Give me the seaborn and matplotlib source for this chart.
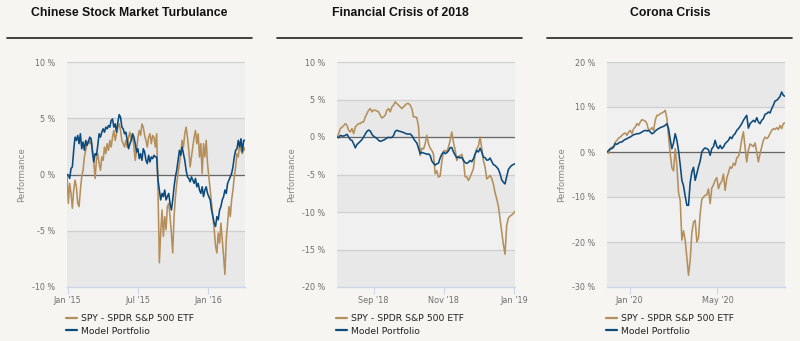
import numpy as np
import pandas as pd
import matplotlib
matplotlib.use("Agg")
import matplotlib.pyplot as plt
import matplotlib.dates as mdates
from matplotlib.lines import Line2D
from matplotlib.ticker import FuncFormatter, MultipleLocator
import seaborn as sns

# ---------------------------------------------------------------- data
titles = ["Chinese Stock Market Turbulance", "Financial Crisis of 2018", "Corona Crisis"]
series_names = ["SPY - SPDR S&P 500 ETF", "Model Portfolio"]

periods = [("2014-12-30", "2016-04-05"),
           ("2018-07-31", "2019-01-02"),
           ("2019-12-01", "2020-08-02")]

y_limits = [(-10, 10), (-20, 10), (-30, 20)]
y_steps = [5, 5, 10]
tick_months = [[1, 7], [1, 3, 5, 7, 9, 11], [1, 5, 9]]

# performance in percent, evenly spaced over each period
spy_chinese = [
    0.00, -2.56, -0.79, -1.68, -3.00, -1.38, -0.50, -1.09, -2.56, -2.85, -1.38, -0.21,
    0.38, 1.56, 2.15, 2.74, 3.03, 2.74, 3.03, 1.85, 1.12, -0.35, 1.30, 1.85, 0.97, 0.38,
    1.56, 1.26, 2.44, 1.85, 2.74, 2.15, 3.03, 2.44, 3.32, 3.91, 3.03, 3.62, 4.21, 4.50,
    3.91, 3.03, 2.74, 2.44, 3.03, 2.44, 3.32, 3.76, 3.03, 3.62, 2.44, 1.26, 2.15, 3.32,
    3.91, 3.47, 4.50, 4.21, 3.47, 3.03, 2.44, 3.32, 3.62, 2.74, 3.47, 3.32, 2.44, 3.62,
    -1.38, -7.85, -5.21, -3.15, -5.50, -3.74, -4.91, -2.85, -2.56, -3.74, -5.21, -6.97,
    -3.74, -1.97, -0.79, 0.09, 0.97, 1.85, 3.03, 2.44, 3.62, 4.21, 3.32, 2.15, 0.68, 1.56,
    2.44, 3.32, 3.91, 2.74, 3.62, 1.56, 2.74, 0.09, 2.74, 1.56, 3.03, 0.97, -0.21, -1.38,
    -2.56, -3.74, -4.91, -6.38, -6.97, -5.21, -6.09, -4.32, -5.79, -7.26, -8.88, -5.80,
    -4.32, -2.85, -3.74, -2.26, -1.38, -0.21, 0.68, 1.85, 1.56, 2.74, 2.15, 1.85, 2.44,
    2.15,
]
model_chinese = [
    0.00, -0.06, -0.35, 0.53, 0.68, 2.15, 3.32, 3.03, 3.47, 2.74, 3.62, 2.29, 2.88, 2.15,
    3.03, 2.59, 2.90, 3.32, 3.18, 2.15, 1.12, 1.85, 1.71, 2.59, 3.62, 3.32, 3.76, 4.06,
    3.76, 4.21, 4.06, 4.35, 4.21, 4.79, 4.94, 4.21, 4.50, 3.76, 4.65, 5.32, 5.09, 4.21,
    4.06, 3.62, 3.76, 3.03, 2.29, 2.74, 3.03, 3.62, 3.32, 2.74, 2.00, 2.29, 1.41, 1.85,
    1.26, 2.29, 2.00, 1.26, 0.97, 1.71, 1.12, 1.56, 1.41, 1.71, 1.56, 1.56, -0.50, -1.38,
    -2.26, -1.68, -1.97, -1.38, -2.26, -1.97, -1.68, -2.56, -3.15, -2.26, -1.09, -0.21,
    0.38, 1.26, 2.15, 1.71, 2.44, 1.85, 1.26, 0.38, -0.21, -0.35, -0.65, -0.21, -0.50,
    -0.79, -0.35, -1.09, -0.79, -1.38, -1.68, -1.09, -1.97, -1.38, -1.09, -1.68, -1.97,
    -2.26, -3.15, -3.74, -4.32, -4.62, -3.74, -4.03, -3.15, -2.85, -2.26, -1.97, -1.38,
    -1.68, -0.79, -0.50, -0.21, 0.09, 0.68, 1.56, 2.15, 2.29, 3.03, 2.44, 3.18, 2.00,
    3.03, 3.03,
]

spy_2018 = [
    0.00, 0.45, 1.12, 1.30, 1.50, 1.79, 1.56, 0.89, 0.67, 1.12, 0.45, 1.34, 1.56, 1.79,
    1.79, 2.01, 2.01, 2.68, 3.13, 3.57, 3.79, 3.35, 3.57, 3.57, 3.48, 3.35, 2.90, 2.54,
    2.68, 2.90, 3.57, 3.79, 3.35, 4.02, 4.24, 4.69, 4.46, 4.24, 4.02, 3.79, 4.02, 4.24,
    4.46, 4.46, 4.24, 3.79, 2.68, 2.68, 2.59, 1.34,
    -2.46, -1.50, -1.60, -0.89, 0.22, -0.90, -1.50, -1.79, -2.30, -4.91, -4.50, -5.36,
    -5.20, -3.30, -1.90, -1.79, -2.01, -1.34, -0.45, 0.67, -0.70, -1.70, -3.13, -2.60,
    -2.50, -2.30, -3.13, -5.30, -5.30, -5.80, -5.36, -4.80, -4.20, -2.30, -1.56, -1.20,
    0.00, -1.50, -3.13, -4.00, -5.58, -5.40, -5.13, -5.50, -6.30, -7.40, -8.26, -9.20,
    -10.90, -12.60, -14.29, -15.63, -11.80, -10.80, -10.55, -10.40, -10.20, -9.90,
]
model_2018 = [
    0.00, -0.09, 0.22, 0.13, 0.13, 0.22, 0.36, 0.00, -0.36, -0.45, -0.89, -1.45, -1.00,
    -0.80, -0.58, -0.35, 0.00, 0.40, 0.75, 0.92, 0.80, 0.35, 0.10, -0.05, -0.20, -0.45,
    -0.58, -0.50, -0.42, -0.30, -0.12, -0.05, -0.09, -0.05, 0.20, 0.75, 0.90, 0.80, 0.75,
    0.67, 0.60, 0.50, 0.40, 0.40, 0.40, 0.20, -0.20, -0.55, -0.80, -1.50, -2.23, -2.05,
    -2.14, -2.20, -2.30, -2.25, -2.46, -3.20, -3.50, -3.75, -3.57, -3.50, -2.80, -2.30,
    -2.01, -2.23, -2.10, -1.85, -1.43, -1.40, -2.00, -2.40, -2.77, -2.62, -2.80, -2.70,
    -3.13, -3.40, -3.52, -3.38, -3.13, -3.30, -2.90, -2.30, -1.79, -2.00, -1.50, -2.00,
    -2.68, -2.75, -3.08, -3.06, -2.81, -3.25, -3.68, -3.79, -4.02, -4.30, -4.90, -5.70,
    -6.03, -6.25, -5.30, -4.35, -4.02, -3.79, -3.66, -3.57,
]

spy_corona = [
    0.00, -0.30, 0.74, 1.11, 1.26, 2.22, 2.59, 3.11, 3.33, 3.70, 4.07, 4.22, 3.70, 4.44,
    4.81, 4.07, 5.19, 5.56, 6.30, 5.93, 6.67, 7.19, 7.04, 6.89, 6.30, 4.81, 4.96, 5.41,
    4.81, 7.04, 8.15, 8.15, 8.52, 8.67, 8.89, 9.26, 7.50, 3.50, -0.37, -3.50, -4.20, 0.74,
    -3.00, -9.00, -10.74, -19.60, -17.50, -19.63, -23.50, -27.40, -24.07, -18.00, -15.56,
    -15.19, -20.00, -19.00, -13.70, -10.50, -10.00, -9.63, -9.50, -8.20, -11.48, -8.00,
    -7.30, -6.30, -5.70, -8.15, -7.04, -6.50, -4.90, -8.52, -5.80, -4.60, -3.33, -3.60,
    -2.50, -2.96, -1.30, -1.00, 0.37, 2.80, 4.50, 1.00, -2.20, 0.40, 1.80, 1.50, 1.20,
    2.00, 0.00, -2.20, -0.40, 1.10, 2.60, 3.30, 3.00, 3.30, 4.10, 4.80, 5.20, 5.00, 5.40,
    5.00, 5.90, 5.20, 6.30, 6.50,
]
model_corona = [
    0.00, 0.37, 0.74, 0.74, 1.11, 1.85, 1.70, 2.00, 2.22, 2.22, 2.59, 2.81, 2.96, 3.19,
    3.33, 3.60, 3.85, 3.93, 4.07, 4.07, 4.22, 4.44, 4.67, 4.81, 4.67, 4.81, 4.44, 4.07,
    4.22, 4.67, 4.96, 5.19, 5.41, 5.56, 5.70, 5.93, 6.30, 5.19, 2.80, 0.74, 2.00, 4.07,
    2.59, 0.30, -2.80, -6.30, -7.50, -9.80, -11.85, -11.85, -6.80, -4.44, -3.40, -6.30,
    -4.81, -3.30, -2.00, 0.00, 0.60, 0.90, 0.74, 0.50, -0.74, 0.74, 1.20, 2.59, 1.26,
    0.74, 1.48, 0.74, 1.11, 1.85, 2.22, 2.59, 3.33, 2.96, 3.70, 4.07, 4.81, 5.19, 5.70,
    6.30, 7.04, 7.63, 8.15, 5.30, 6.30, 6.67, 7.04, 6.67, 7.63, 6.67, 6.30, 7.04, 7.41,
    8.37, 8.52, 8.89, 8.67, 9.63, 10.37, 11.33, 11.48, 11.85, 12.37, 13.33, 12.59, 12.37,
]

spy_series = [spy_chinese, spy_2018, spy_corona]
model_series = [model_chinese, model_2018, model_corona]

# ---------------------------------------------------------------- style
BG = "#f6f5f1"
BAND_DARK = "#e8e8e8"
BAND_LIGHT = "#f0f0f0"
GRID = "#cfcfcf"
AXIS = "#ccd6eb"
TAN = "#b58f5b"
NAVY = "#0c4a7c"
LABEL = "#6e6e6e"

sns.set_theme(style="white")
plt.rcParams["font.family"] = ["DejaVu Sans"]

W, H = 800, 341
fig = plt.figure(figsize=(W / 100, H / 100), dpi=100, facecolor=BG)

panel_left = [67, 337, 607]
title_x = [129.5, 400, 670]
rule_x = [(7, 252), (277, 522), (547, 792)]
plot_top, plot_bottom, plot_w = 62, 287, 178

pct = FuncFormatter(lambda v, _: f"{v:g} %")

for i in range(3):
    ax = fig.add_axes([panel_left[i] / W, 1 - plot_bottom / H,
                       plot_w / W, (plot_bottom - plot_top) / H])
    ax.set_facecolor(BG)
    lo, hi = y_limits[i]
    step = y_steps[i]

    # alternating plot bands and grid lines
    for k, edge in enumerate(np.arange(lo, hi, step)):
        ax.axhspan(edge, edge + step, color=BAND_DARK if k % 2 == 0 else BAND_LIGHT,
                   lw=0, zorder=0)
    for v in np.arange(lo + step, hi + step, step):
        ax.axhline(v, color=GRID, lw=0.9, zorder=1)
    ax.axhline(0, color="#666666", lw=0.9, zorder=2)

    start, end = periods[i]
    spy = spy_series[i]
    model = model_series[i]
    spy_dates = pd.date_range(start, end, periods=len(spy))
    model_dates = pd.date_range(start, end, periods=len(model))
    sns.lineplot(x=spy_dates, y=spy, ax=ax, color=TAN, lw=1.15,
                 label=series_names[0], zorder=3)
    sns.lineplot(x=model_dates, y=model, ax=ax, color=NAVY, lw=1.15,
                 label=series_names[1], zorder=4)

    ax.set_xlim(pd.Timestamp(start), pd.Timestamp(end))
    ax.set_ylim(lo, hi)
    ax.yaxis.set_major_locator(MultipleLocator(step))
    ax.yaxis.set_major_formatter(pct)
    ax.xaxis.set_major_locator(mdates.MonthLocator(bymonth=tick_months[i]))
    ax.xaxis.set_major_formatter(mdates.DateFormatter("%b '%y"))

    for side in ("top", "right", "left"):
        ax.spines[side].set_visible(False)
    ax.spines["bottom"].set_color(AXIS)
    ax.spines["bottom"].set_linewidth(1.0)
    ax.spines["bottom"].set_zorder(5)

    ax.tick_params(axis="x", direction="out", length=5, width=0.8, color=AXIS,
                   labelcolor=LABEL, labelsize=5.9, pad=1.5, bottom=True)
    ax.tick_params(axis="y", length=0, labelcolor=LABEL, labelsize=5.8, pad=8.5, left=True)

    ax.set_xlabel("")
    ax.set_ylabel("Performance", fontsize=6.2, color="#888888")
    ax.yaxis.set_label_coords(-0.228, 0.5)

    handles, labels = ax.get_legend_handles_labels()
    leg = ax.legend(handles, labels, loc="upper left", bbox_to_anchor=(-0.006, -0.12),
                    frameon=False, fontsize=6.7, handlelength=1.2, handletextpad=0.45,
                    labelspacing=0.4, borderpad=0, borderaxespad=0)
    for line in leg.get_lines():
        line.set_linewidth(1.6)
    for txt in leg.get_texts():
        txt.set_color("#222222")

    fig.text(title_x[i] / W, 1 - 13.5 / H, titles[i], ha="center", va="center",
             fontsize=8.8, fontweight="bold", color="#111111", family="Liberation Sans")
    x0, x1 = rule_x[i]
    fig.add_artist(Line2D([x0 / W, x1 / W], [1 - 37.7 / H] * 2,
                          transform=fig.transFigure, color="#222222", lw=1.2))

fig.savefig("out.png", dpi=100, facecolor=BG)
